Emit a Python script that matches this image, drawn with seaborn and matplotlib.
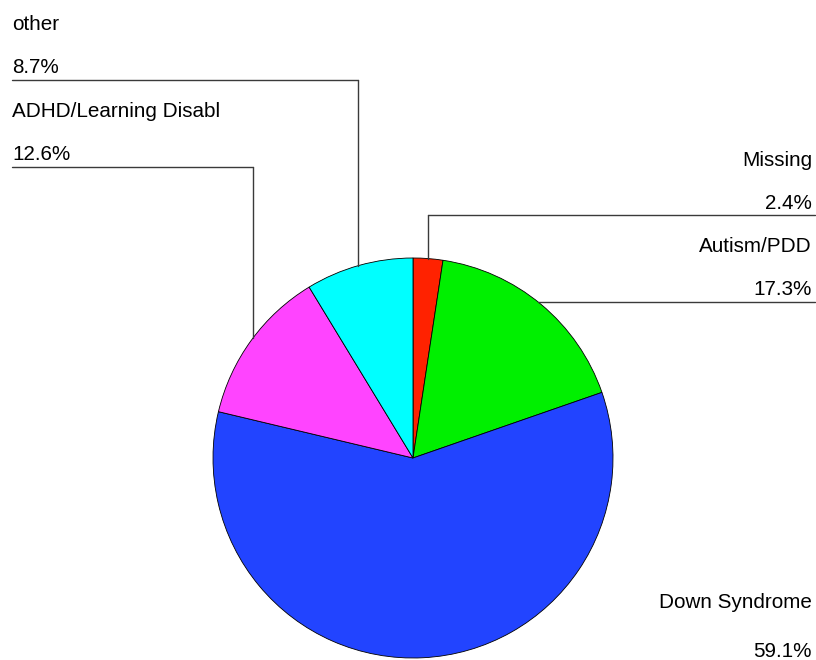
import numpy as np
import matplotlib
matplotlib.use("Agg")
import matplotlib.pyplot as plt
import seaborn as sns

categories = ["Missing", "Autism/PDD", "Down Syndrome", "ADHD/Learning Disabl", "other"]
values = [2.4, 17.3, 59.1, 12.6, 8.7]
pct_labels = ["2.4%", "17.3%", "59.1%", "12.6%", "8.7%"]
colors = ["#ff2200", "#00f000", "#2244ff", "#ff44ff", "#00ffff"]

sns.set_style("white")
plt.rcParams['font.family'] = ['Liberation Sans', 'DejaVu Sans']
plt.rcParams['text.color'] = 'black'

W, H = 816, 660
fig = plt.figure(figsize=(W / 100, H / 100), dpi=100)
ax = fig.add_axes([0, 0, 1, 1])

cx, cy, r = 413, H - 458, 200
ax.pie(values, colors=colors, startangle=90, counterclock=False,
       center=(cx, cy), radius=r,
       wedgeprops=dict(edgecolor="black", linewidth=0.6))
ax.set_xlim(0, W)
ax.set_ylim(0, H)
ax.set_aspect("equal")
ax.axis("off")

def py(y):
    return H - y

fs = 14.9
lc = "#3a3a3a"

def edge_y(x):
    return cy + np.sqrt(r**2 - (x - cx) ** 2)

# left labels: other, ADHD
left = [(4, 30, 73, 80, 358), (3, 117, 160, 167, 253)]
for i, b1, b2, ly, vx in left:
    ax.text(12, py(b1), categories[i], ha="left", va="baseline", fontsize=fs, color="black")
    ax.text(12, py(b2), pct_labels[i], ha="left", va="baseline", fontsize=fs, color="black")
    ax.plot([12, vx], [py(ly), py(ly)], color=lc, lw=1)
    ax.plot([vx, vx], [py(ly), edge_y(vx)], color=lc, lw=1)

# right labels: Missing, Autism
ax.text(812, py(166), categories[0], ha="right", va="baseline", fontsize=fs, color="black")
ax.text(812, py(209), pct_labels[0], ha="right", va="baseline", fontsize=fs, color="black")
ax.plot([428, 815], [py(215), py(215)], color=lc, lw=1)
ax.plot([428, 428], [py(215), edge_y(428)], color=lc, lw=1)

ax.text(812, py(252), categories[1], ha="right", va="baseline", fontsize=fs, color="black")
ax.text(812, py(295), pct_labels[1], ha="right", va="baseline", fontsize=fs, color="black")
ax_x = cx + np.sqrt(r**2 - (py(302) - cy) ** 2)
ax.plot([ax_x, 815], [py(302), py(302)], color=lc, lw=1)

ax.text(812, py(608), categories[2], ha="right", va="baseline", fontsize=fs, color="black")
ax.text(812, py(657), pct_labels[2], ha="right", va="baseline", fontsize=fs, color="black")

fig.savefig("out.png", dpi=100)
